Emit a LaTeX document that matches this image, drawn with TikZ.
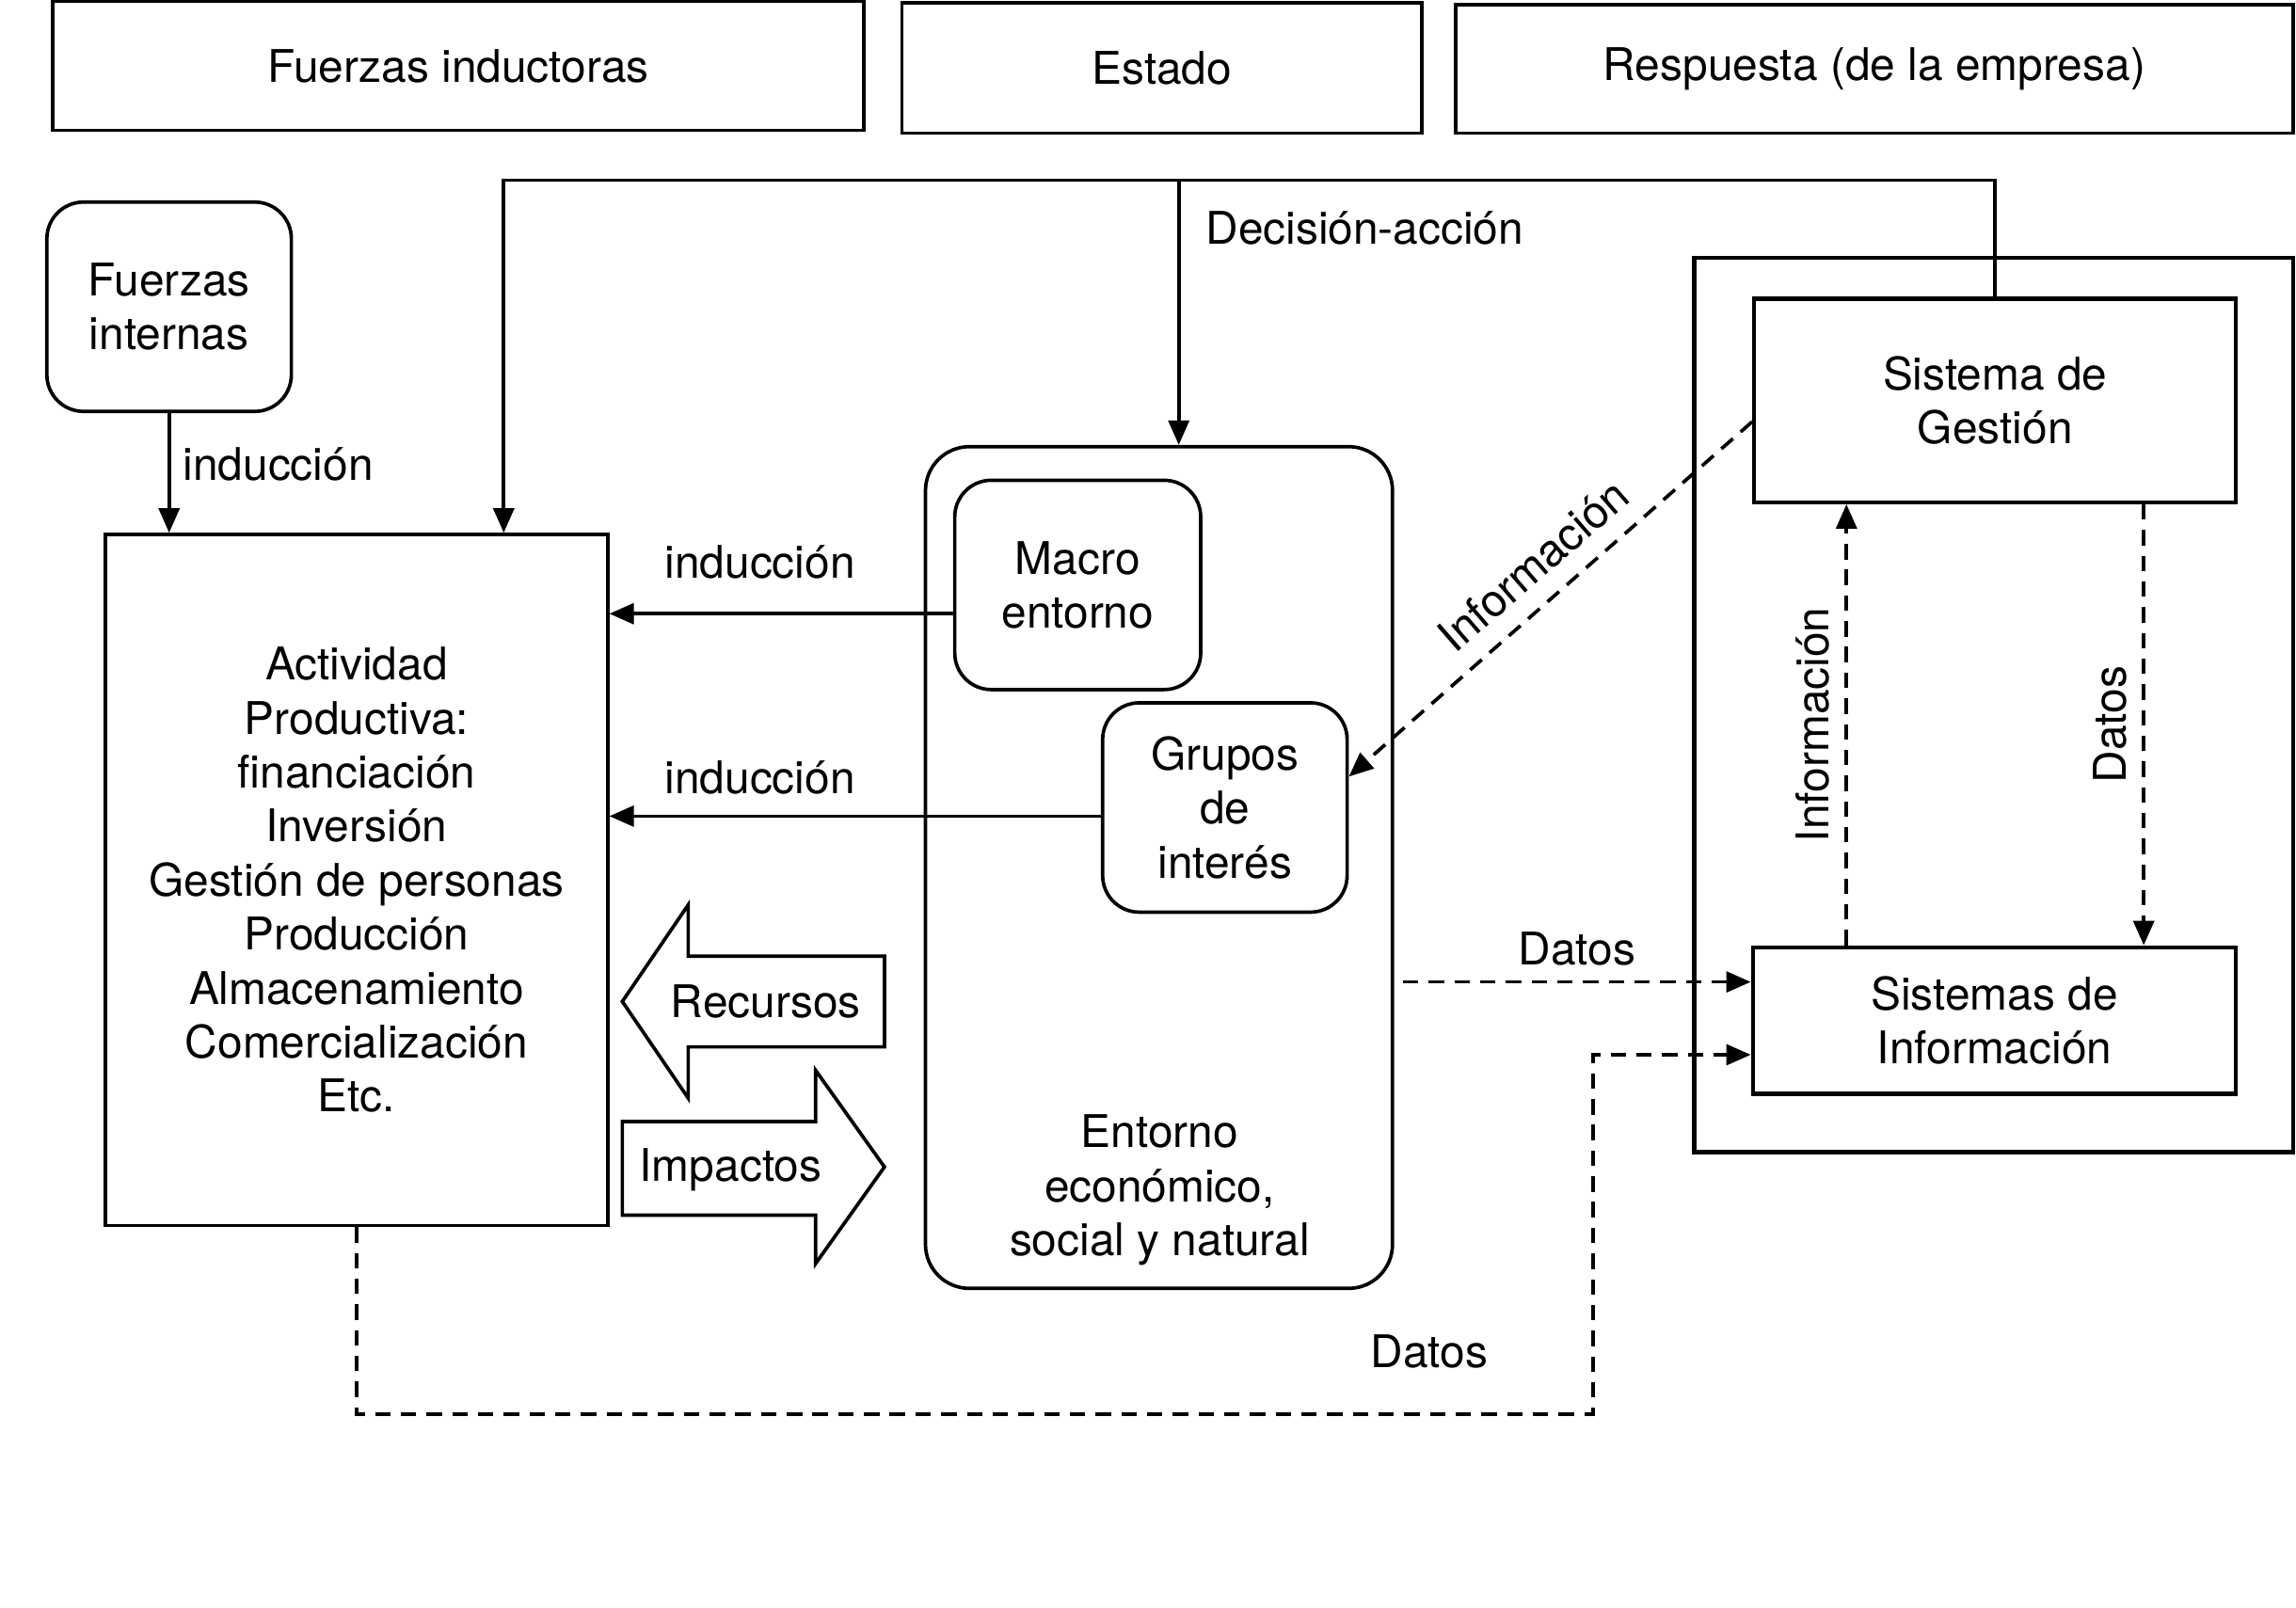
\documentclass[tikz,border=0pt]{standalone}
\usepackage{fontspec}
\setmainfont{TeX Gyre Heros}
\usepackage{tikz}
\usetikzlibrary{arrows.meta}
\usetikzlibrary{calc}

\begin{document}
\begin{tikzpicture}[x=0.02cm, y=-0.02cm, line width=1.35pt,
    every node/.style={font=\fontsize{17.5}{21}\selectfont, align=center},
    box/.style={draw, rectangle, inner sep=0pt},
    rbox/.style={draw, rectangle, rounded corners=0.5cm, inner sep=0pt},
    flow/.style={-{Triangle[length=9.5pt, width=8pt]}},
    dat/.style={flow, dash pattern=on 6pt off 4pt}]
    \useasboundingbox (0,0) rectangle (1568,1098);
    % cabeceras
    \node[box, minimum width=11.08cm, minimum height=1.76cm] (fuerzas) at (313,45) {Fuerzas inductoras};
    \node[box, minimum width=7.10cm, minimum height=1.78cm] (estado) at (793.5,46.5) {Estado};
    \node[box, minimum width=11.44cm, minimum height=1.76cm] (respuesta) at (1280,47) {Respuesta (de la empresa)};
    % empresa
    \node[rbox, minimum width=3.34cm, minimum height=2.86cm] (internas) at (115.5,209.5) {Fuerzas\\internas};
    \node[box, minimum width=6.86cm, minimum height=9.44cm] (actividad) at (243.5,601)
      {Actividad\\Productiva:\\financiación\\Inversión\\Gestión de personas\\Producción\\Almacenamiento\\Comercialización\\Etc.};
    % entorno
    \node[rbox, rounded corners=0.6cm, minimum width=6.38cm, minimum height=11.5cm] (entorno) at (791.5,592.5) {};
    \node (entornotxt) at (792,813) {Entorno\\económico,\\social y natural};
    \node[rbox, minimum width=3.36cm, minimum height=2.86cm] (macro) at (736,399.5) {Macro\\entorno};
    \node[rbox, minimum width=3.34cm, minimum height=2.86cm] (grupos) at (836.5,551.5) {Grupos\\de\\interés};
    % respuesta
    \node[box, line width=1.6pt, minimum width=8.18cm, minimum height=12.22cm] (marco) at (1361.5,481.5) {};
    \node[box, line width=1.6pt, minimum width=6.58cm, minimum height=2.78cm] (gestion) at (1362.5,273.5) {Sistema de\\Gestión};
    \node[box, line width=1.6pt, minimum width=6.60cm, minimum height=2.00cm] (sinfo) at (1362,697) {Sistemas de\\Información};
    % flechas gruesas
    \draw (604,653) -- (470,653) -- (470,618) -- (425,684) -- (470,750) -- (470,715) -- (604,715) -- cycle;
    \node (recursos) at (523,684) {Recursos};
    \draw (425,766) -- (557,766) -- (557,731) -- (604,797) -- (557,863) -- (557,830) -- (425,830) -- cycle;
    \node (impactos) at (499,799) {Impactos};
    % induccion
    \draw[flow] (internas.south) -- (internas.south |- actividad.north);
    \node (ind1) at (190,317) {inducción};
    \draw[flow] (macro.193) -- (macro.193 -| actividad.east);
    \node (ind2) at (519,384) {inducción};
    \draw[flow] (grupos.184) -- (grupos.184 -| actividad.east);
    \node (ind3) at (519,531) {inducción};
    % decision-accion
    \coordinate (dec) at (805,123);
    \coordinate (izq) at (344,123);
    \draw[flow] (gestion.north) |- (izq) -- (izq |- actividad.north);
    \draw[flow] (dec) -- (dec |- entorno.north);
    \node (declbl) at (932,156) {Decisión-acción};
    % informacion y datos
    \draw[dat] (gestion.185) -- (grupos.14);
    \node[rotate=41] (info1) at (1047,386) {Información};
    \draw[dat] (1261,0 |- sinfo.north) -- (1261,0 |- gestion.south);
    \node[rotate=90] (info2) at (1238,495) {Información};
    \draw[dat] (1464,0 |- gestion.south) -- (1464,0 |- sinfo.north);
    \node[rotate=90] (datos1) at (1441,495) {Datos};
    \draw[dat] ($(entorno.east |- sinfo.171)+(6,0)$) -- (sinfo.171);
    \node (datos2) at (1077,648) {Datos};
    \coordinate (abajo) at (1088,966);
    \draw[dat] (actividad.south) |- (abajo) |- (sinfo.188);
    \node (datos3) at (976,923) {Datos};
\end{tikzpicture}
\end{document}
